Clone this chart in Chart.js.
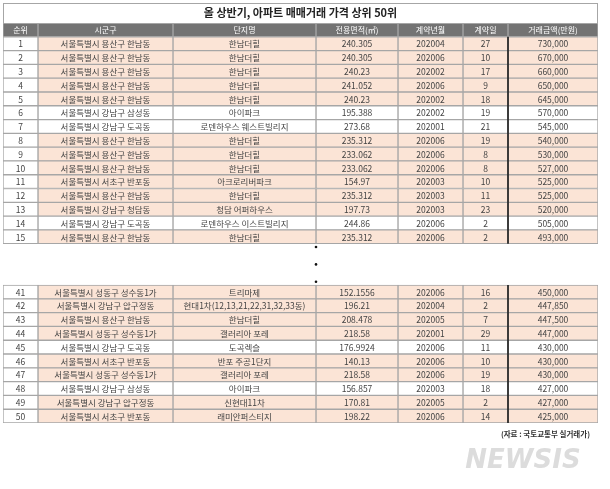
<!DOCTYPE html>
<html><head><meta charset="utf-8">
<script src="https://cdn.jsdelivr.net/npm/chart.js@4"></script>
<style>html,body{margin:0;padding:0;background:#fff}#wrap{width:610px;height:489px}</style>
</head><body><div id="wrap"><canvas id="c"></canvas></div>
<script>
const title = '올 상반기, 아파트 매매거래 가격 상위 50위';
const headers = ['순위','시군구','단지명','전용면적(㎡)','계약년월','계약일','거래금액(만원)'];
const colEdges = [3,38,173,316,398,463,508,598];
const ranks = [1,2,3,4,5,6,7,8,9,10,11,12,13,14,15,41,42,43,44,45,46,47,48,49,50];
const regions = ['서울특별시 용산구 한남동','서울특별시 용산구 한남동','서울특별시 용산구 한남동','서울특별시 용산구 한남동','서울특별시 용산구 한남동','서울특별시 강남구 삼성동','서울특별시 강남구 도곡동','서울특별시 용산구 한남동','서울특별시 용산구 한남동','서울특별시 용산구 한남동','서울특별시 서초구 반포동','서울특별시 용산구 한남동','서울특별시 강남구 청담동','서울특별시 강남구 도곡동','서울특별시 용산구 한남동',
'서울특별시 성동구 성수동1가','서울특별시 강남구 압구정동','서울특별시 용산구 한남동','서울특별시 성동구 성수동1가','서울특별시 강남구 도곡동','서울특별시 서초구 반포동','서울특별시 성동구 성수동1가','서울특별시 강남구 삼성동','서울특별시 강남구 압구정동','서울특별시 서초구 반포동'];
const complexes = ['한남더힐','한남더힐','한남더힐','한남더힐','한남더힐','아이파크','로덴하우스 웨스트빌리지','한남더힐','한남더힐','한남더힐','아크로리버파크','한남더힐','청담 어퍼하우스','로덴하우스 이스트빌리지','한남더힐',
'트리마제','현대1차(12,13,21,22,31,32,33동)','한남더힐','갤러리아 포레','도곡렉슬','반포 주공1단지','갤러리아 포레','아이파크','신현대11차','래미안퍼스티지'];
const areas = ['240.305','240.305','240.23','241.052','240.23','195.388','273.68','235.312','233.062','233.062','154.97','235.312','197.73','244.86','235.312',
'152.1556','196.21','208.478','218.58','176.9924','140.13','218.58','156.857','170.81','198.22'];
const yearMonths = ['202004','202006','202002','202006','202002','202002','202001','202006','202006','202006','202003','202003','202003','202006','202006',
'202006','202004','202005','202001','202006','202006','202006','202003','202005','202006'];
const days = [27,10,17,9,18,19,21,19,8,8,10,11,23,2,2,16,2,7,29,11,10,19,18,2,14];
const prices = [730000,670000,660000,650000,645000,570000,545000,540000,530000,527000,525000,525000,520000,505000,493000,
450000,447850,447500,447000,430000,430000,430000,427000,427000,425000];
const whiteRows = [6,7,14,45,48];
const source = '(자료 : 국토교통부 실거래가)';

// rows: header, 15 rows, 3 gap rows, 10 rows
const rowLabels = ['header'];
const rowData = [null];
ranks.forEach((r,i)=>{ if(r===41){rowLabels.push('g1','g2','g3');rowData.push(null,null,null);} rowLabels.push(String(r)); rowData.push(i); });

const PEACH='#fbe4d6', HEAD='#737373';
const cells = [ranks.map(String), regions, complexes, areas, yearMonths, days.map(String), prices.map(p=>p.toLocaleString('en-US'))];
const datasets = headers.map((h,c)=>({
  label:h, grouped:false,
  data: rowData.map((d,ri)=> (ri===0||d!==null) ? [colEdges[c],colEdges[c+1]] : null),
  backgroundColor: rowData.map((d,ri)=> ri===0?HEAD : (d===null?'transparent': (c===0||whiteRows.includes(ranks[d])?'#fff':PEACH))),
  borderColor:'#a6a6a6', borderWidth:1, borderSkipped:false,
  categoryPercentage:1, barPercentage:1
}));

const textPlugin = {id:'txt', afterDatasetsDraw(ch){
  const {ctx, scales:{x,y}, chartArea:a} = ch;
  ctx.save();
  // title box
  ctx.strokeStyle='#a6a6a6'; ctx.lineWidth=1; ctx.strokeRect(a.left+0.5,3.5,a.right-a.left-1,a.top-3);
  ctx.fillStyle='#222'; ctx.font='bold 11px "Noto Sans CJK KR"'; ctx.textAlign='center'; ctx.textBaseline='middle';
  ctx.fillText(title,(a.left+a.right)/2,13);
  // thick line
  const xt=x.getPixelForValue(colEdges[6]);
  ctx.strokeStyle='#111'; ctx.lineWidth=1.5;
  [[1,15],[19,28]].forEach(([s,e])=>{ctx.beginPath();ctx.moveTo(xt,y.getPixelForValue(s)-6.9);ctx.lineTo(xt,y.getPixelForValue(e)+6.9);ctx.stroke();});
  rowData.forEach((d,ri)=>{
    const py=y.getPixelForValue(ri)+0.5;
    headers.forEach((h,c)=>{
      const px=x.getPixelForValue((colEdges[c]+colEdges[c+1])/2);
      if(ri===0){ctx.fillStyle='#fff';ctx.font='8px "Noto Sans CJK KR"';ctx.fillText(h,px,py);}
      else if(d!==null){ctx.fillStyle='#444';ctx.font='8.5px "Noto Sans CJK KR"';ctx.fillText(cells[c][d],px,py);}
    });
  });
  // dots
  ctx.fillStyle='#111';
  const dx=x.getPixelForValue(colEdges[3]);
  [16,17,18].forEach(ri=>{ctx.beginPath();ctx.arc(dx,y.getPixelForValue(ri)+ (ri-17)*-4.9+ (ri-17)*8.5 ,1.3,0,7);ctx.fill();});
  ctx.textAlign='right'; ctx.fillStyle='#333'; ctx.font='bold 7.5px "Noto Sans CJK KR"';
  ctx.fillText(source,a.right-8,a.bottom+11);
  ctx.textAlign='center'; ctx.fillStyle='#dcdcdc'; ctx.font='italic bold 26px "DejaVu Sans"';
  ctx.fillText('NEWSIS',523,461);
  ctx.restore();
}};

new Chart(document.getElementById('c'),{
  type:'bar',
  data:{labels:rowLabels, datasets},
  options:{
    indexAxis:'y', responsive:true, maintainAspectRatio:false, animation:false,
    layout:{padding:{left:3,right:12,top:23,bottom:66}},
    plugins:{legend:{display:false},tooltip:{enabled:false}},
    scales:{
      x:{type:'linear',min:colEdges[0],max:colEdges[7],display:false},
      y:{type:'category',display:false,offset:true,grid:{display:false}}
    }
  },
  plugins:[textPlugin]
});
</script></body></html>
